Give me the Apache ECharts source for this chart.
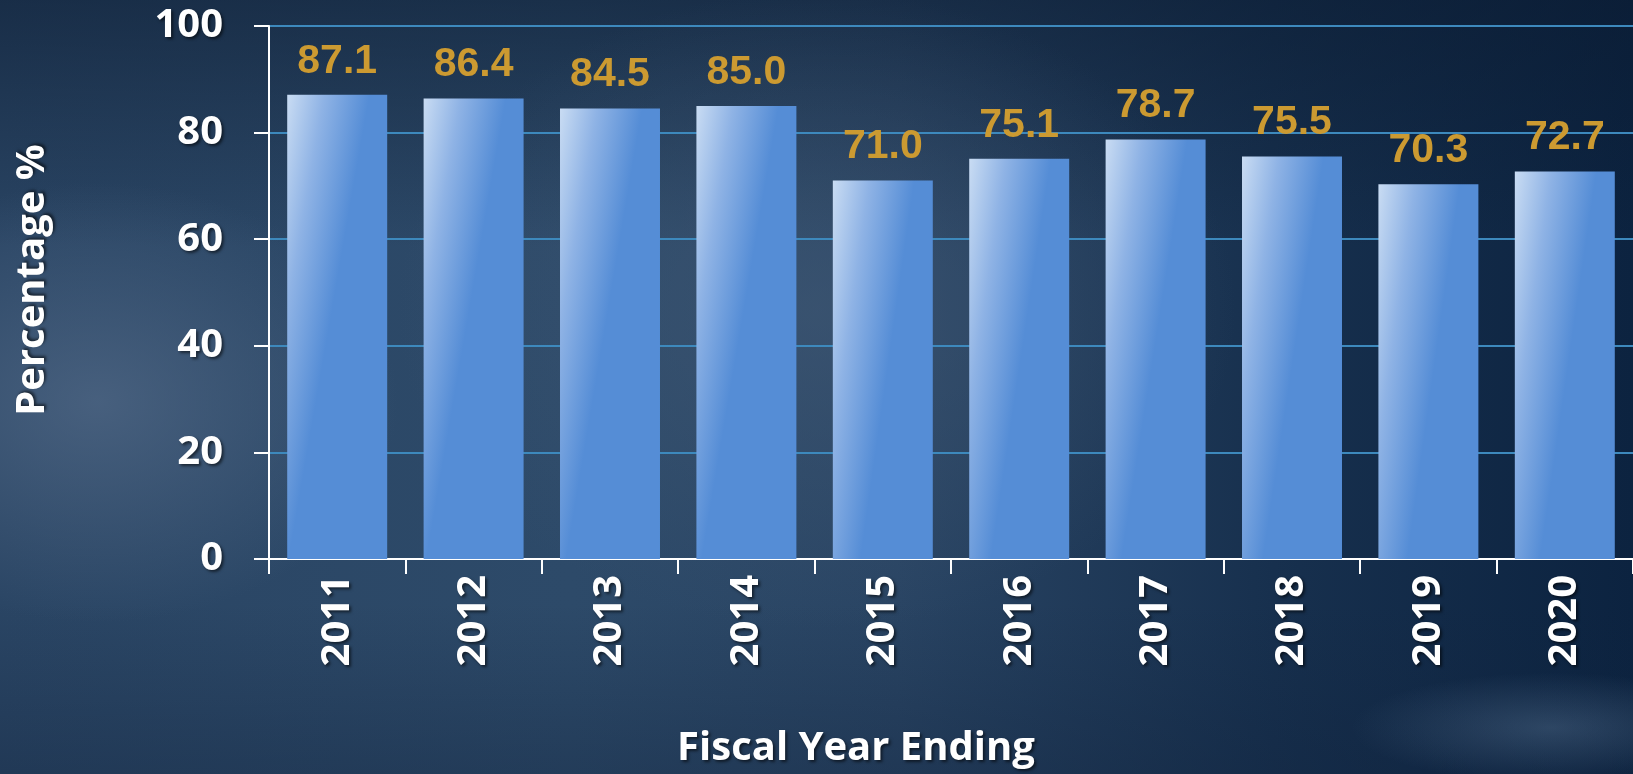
<!DOCTYPE html>
<html>
<head>
<meta charset="utf-8">
<title>Fiscal Year Ending</title>
<script src="https://cdn.jsdelivr.net/npm/echarts@6/dist/echarts.min.js"></script>
<style>
  html, body { margin: 0; padding: 0; width: 1633px; height: 774px; overflow: hidden; }
  body {
    background:
      radial-gradient(ellipse 200px 55px at 95% 94%, rgba(110,140,172,0.32), rgba(110,140,172,0) 100%),
      radial-gradient(ellipse 300px 220px at 6% 52%, rgba(78,102,132,0.8), rgba(78,102,132,0) 100%),
      radial-gradient(ellipse 420px 320px at 50% 40%, rgba(66,90,118,0.6), rgba(66,90,118,0) 100%),
      linear-gradient(to bottom, rgba(10,26,48,0.55) 0%, rgba(10,26,48,0) 32%, rgba(10,26,48,0) 78%, rgba(16,34,60,0.35) 100%),
      linear-gradient(to right, #2a4564 0%, #2d4a69 35%, #294463 55%, #17304e 78%, #0c2340 100%);
  }
  #chart { width: 1633px; height: 774px; }
</style>
</head>
<body>
<div id="chart"></div>
<script>
// Share of the budget by fiscal year
const years = ['2011', '2012', '2013', '2014', '2015', '2016', '2017', '2018', '2019', '2020'];
const percentages = [87.1, 86.4, 84.5, 85.0, 71.0, 75.1, 78.7, 75.5, 70.3, 72.7];
const yTicks = [0, 20, 40, 60, 80, 100];

const axisFont = '"Open Sans", "DejaVu Sans", sans-serif';
const shadow = {
  textShadowColor: 'rgba(0,0,0,0.55)',
  textShadowBlur: 3,
  textShadowOffsetX: 2,
  textShadowOffsetY: 2
};

const chart = echarts.init(document.getElementById('chart'), null, { renderer: 'canvas' });

chart.setOption({
  backgroundColor: 'transparent',
  animation: false,
  grid: { left: 269, right: 0, top: 26, bottom: 215, containLabel: false },
  xAxis: {
    type: 'category',
    data: years,
    boundaryGap: true,
    axisLine: { show: true, lineStyle: { color: '#ffffff', width: 2 } },
    axisTick: { show: true, alignWithLabel: false, length: 15, lineStyle: { color: '#ffffff', width: 2 } },
    axisLabel: {
      rotate: 90,
      margin: 16,
      color: '#ffffff',
      fontFamily: axisFont,
      fontWeight: 'bold',
      fontSize: 40,
      ...shadow
    }
  },
  yAxis: {
    type: 'value',
    min: yTicks[0],
    max: yTicks[yTicks.length - 1],
    interval: yTicks[1] - yTicks[0],
    axisLine: { show: true, lineStyle: { color: '#ffffff', width: 2 } },
    axisTick: { show: true, length: 15, lineStyle: { color: '#ffffff', width: 2 } },
    splitLine: { show: true, lineStyle: { color: '#3d89bd', width: 2 } },
    axisLabel: {
      margin: 46,
      color: '#ffffff',
      fontFamily: axisFont,
      fontWeight: 'bold',
      fontSize: 40,
      ...shadow
    }
  },
  graphic: [
    {
      type: 'text',
      x: 33,
      y: 280,
      rotation: Math.PI / 2,
      style: {
        text: 'Percentage %',
        fill: '#ffffff',
        font: 'bold 40px ' + axisFont,
        textAlign: 'center',
        textVerticalAlign: 'middle',
        textShadowColor: 'rgba(0,0,0,0.55)',
        textShadowBlur: 3,
        textShadowOffsetX: 2,
        textShadowOffsetY: -2
      }
    },
    {
      type: 'text',
      x: 856,
      y: 749,
      style: {
        text: 'Fiscal Year Ending',
        fill: '#ffffff',
        font: 'bold 40px ' + axisFont,
        textAlign: 'center',
        textVerticalAlign: 'middle',
        textShadowColor: 'rgba(0,0,0,0.55)',
        textShadowBlur: 3,
        textShadowOffsetX: 2,
        textShadowOffsetY: 2
      }
    }
  ],
  series: [
    {
      type: 'bar',
      data: percentages,
      barCategoryGap: '26.7%',
      itemStyle: {
        color: new echarts.graphic.LinearGradient(0, 0, 0.8, 0.03, [
          { offset: 0, color: '#c9dcf3' },
          { offset: 0.45, color: '#8fb3e5' },
          { offset: 1, color: '#558dd6' }
        ])
      },
      label: {
        show: true,
        position: 'top',
        distance: 13,
        color: '#cc9a31',
        fontFamily: '"Liberation Sans", Arial, sans-serif',
        fontWeight: 'bold',
        fontSize: 41,
        formatter: (p) => p.value.toFixed(1)
      }
    }
  ]
});
</script>
</body>
</html>
